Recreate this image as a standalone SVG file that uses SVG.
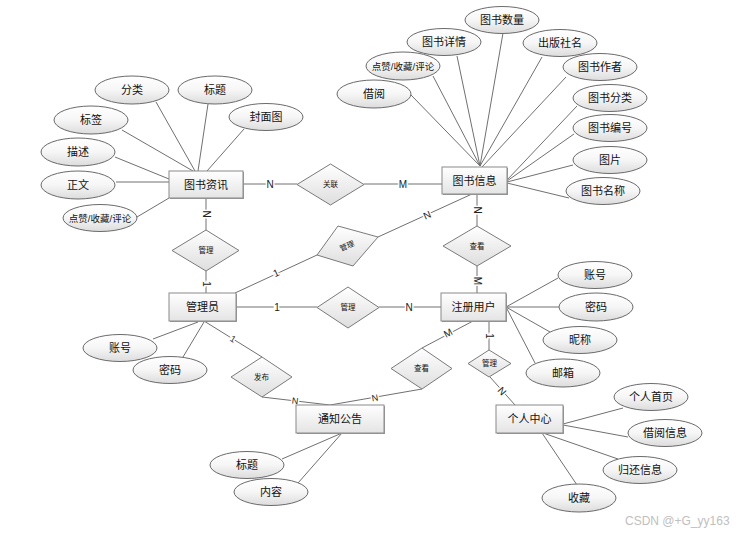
<svg xmlns="http://www.w3.org/2000/svg" width="739" height="533" viewBox="0 0 739 533">
<defs>
<linearGradient id="gE" x1="0" y1="0" x2="0" y2="1"><stop offset="0" stop-color="#ffffff"/><stop offset="0.5" stop-color="#f6f6f6"/><stop offset="1" stop-color="#dcdcdc"/></linearGradient>
<linearGradient id="gR" x1="0" y1="0" x2="0" y2="1"><stop offset="0" stop-color="#ffffff"/><stop offset="1" stop-color="#e4e4e4"/></linearGradient>
<linearGradient id="gD" x1="0" y1="0" x2="0" y2="1"><stop offset="0" stop-color="#ffffff"/><stop offset="1" stop-color="#dedede"/></linearGradient>
<style>
.e{fill:url(#gE);stroke:#6a6a6a;stroke-width:1}
.r{fill:url(#gR);stroke:#8a8a8a;stroke-width:1}
.rs{fill:#9a9a9a}
.d{fill:url(#gD);stroke:#7a7a7a;stroke-width:1}
.t{font-family:"Liberation Sans","Noto Sans CJK SC",sans-serif;font-size:11px;fill:#111;text-anchor:middle;dominant-baseline:central}
.ts{font-size:9.5px}
.td{font-size:7.5px}
.c line{stroke:#707070;stroke-width:1}
.l{font-family:"Liberation Sans","Noto Sans CJK SC",sans-serif;font-size:10px;fill:#222;text-anchor:middle;dominant-baseline:central;stroke:#fff;stroke-width:3px;paint-order:stroke}
.wm{font-family:"Liberation Sans","Noto Sans CJK SC",sans-serif;font-size:12px;fill:#c0c0c0}
</style>
</defs>
<rect width="739" height="533" fill="#fff"/>
<g id="connectors" class="c">
<line x1="156" y1="102" x2="195" y2="171"/>
<line x1="208" y1="104" x2="198" y2="171"/>
<line x1="244" y1="129" x2="207" y2="171"/>
<line x1="122" y1="130" x2="193" y2="171"/>
<line x1="115" y1="157" x2="169" y2="179"/>
<line x1="116" y1="182" x2="169" y2="182"/>
<line x1="137" y1="217" x2="169" y2="198"/>
<line x1="411" y1="95" x2="480" y2="166"/>
<line x1="433" y1="76" x2="480" y2="166"/>
<line x1="457" y1="56" x2="480" y2="166"/>
<line x1="503" y1="33" x2="480" y2="166"/>
<line x1="542" y1="57" x2="480" y2="166"/>
<line x1="566" y1="77" x2="482" y2="167"/>
<line x1="577" y1="106" x2="507" y2="180"/>
<line x1="574" y1="134" x2="507" y2="181"/>
<line x1="573" y1="165" x2="507" y2="182"/>
<line x1="569" y1="198" x2="507" y2="183"/>
<line x1="243" y1="184" x2="297" y2="184"/>
<line x1="364" y1="184" x2="442" y2="184"/>
<line x1="206" y1="198" x2="206" y2="230"/>
<line x1="206" y1="271" x2="206" y2="293"/>
<line x1="235" y1="293" x2="317" y2="255"/>
<line x1="378" y1="237" x2="472" y2="194"/>
<line x1="477" y1="194" x2="477" y2="226"/>
<line x1="477" y1="266" x2="477" y2="293"/>
<line x1="236" y1="307" x2="317" y2="307"/>
<line x1="379" y1="307" x2="441" y2="307"/>
<line x1="506" y1="307" x2="558" y2="278"/>
<line x1="506" y1="307" x2="559" y2="307"/>
<line x1="506" y1="307" x2="550" y2="332"/>
<line x1="506" y1="307" x2="535" y2="363"/>
<line x1="489" y1="321" x2="489" y2="350"/>
<line x1="490" y1="377" x2="515" y2="405"/>
<line x1="473" y1="321" x2="422" y2="348"/>
<line x1="422" y1="389" x2="330" y2="405"/>
<line x1="204" y1="321" x2="262" y2="357"/>
<line x1="262" y1="397" x2="330" y2="405"/>
<line x1="153" y1="339" x2="198" y2="322"/>
<line x1="183" y1="357" x2="204" y2="322"/>
<line x1="282" y1="459" x2="342" y2="433"/>
<line x1="298" y1="483" x2="342" y2="433"/>
<line x1="563" y1="424" x2="623" y2="408"/>
<line x1="563" y1="425" x2="628" y2="437"/>
<line x1="543" y1="433" x2="618" y2="459"/>
<line x1="542" y1="433" x2="577" y2="485"/>
<text class="l" x="270" y="184">N</text>
<text class="l" x="403" y="184">M</text>
<text class="l" transform="translate(206,214) rotate(90)">N</text>
<text class="l" transform="translate(206,284) rotate(90)">1</text>
<text class="l" transform="translate(276,273) rotate(-25)">1</text>
<text class="l" transform="translate(427,215) rotate(-24)">N</text>
<text class="l" transform="translate(477,210) rotate(90)">N</text>
<text class="l" transform="translate(477,281) rotate(90)">M</text>
<text class="l" x="277" y="307">1</text>
<text class="l" x="409" y="307">N</text>
<text class="l" transform="translate(489,336) rotate(90)">1</text>
<text class="l" transform="translate(502,391) rotate(48)">N</text>
<text class="l" transform="translate(448,333) rotate(-28)">M</text>
<text class="l" transform="translate(375,398) rotate(-10)" style="font-size:9px">N</text>
<text class="l" transform="translate(233,339) rotate(32)" style="font-size:9px">1</text>
<text class="l" transform="translate(295,401) rotate(7)" style="font-size:9px">N</text>
</g>
<g id="n-tszx"><rect class="rs" x="170" y="172" width="74" height="27"/><rect class="r" x="169" y="171" width="74" height="27"/><text class="t" x="206" y="184.5">图书资讯</text></g>
<g id="n-tsxx"><rect class="rs" x="443" y="168" width="65" height="27"/><rect class="r" x="442" y="167" width="65" height="27"/><text class="t" x="474.5" y="180.5">图书信息</text></g>
<g id="n-gly"><rect class="rs" x="170" y="294" width="67" height="28"/><rect class="r" x="169" y="293" width="67" height="28"/><text class="t" x="202.5" y="307">管理员</text></g>
<g id="n-zcyh"><rect class="rs" x="442" y="294" width="65" height="28"/><rect class="r" x="441" y="293" width="65" height="28"/><text class="t" x="473.5" y="307">注册用户</text></g>
<g id="n-tzgg"><rect class="rs" x="297" y="406" width="88" height="28"/><rect class="r" x="296" y="405" width="88" height="28"/><text class="t" x="340" y="419">通知公告</text></g>
<g id="n-grzx"><rect class="rs" x="497" y="406" width="67" height="28"/><rect class="r" x="496" y="405" width="67" height="28"/><text class="t" x="529.5" y="419">个人中心</text></g>
<g id="d-gl"><polygon class="d" points="297,184.5 330.5,164 364,184.5 330.5,205"/><text class="t td" x="330.5" y="184.5">关联</text></g>
<g id="d-gl1"><polygon class="d" points="172,250.5 206,230 239,250.5 206,271"/><text class="t td" x="206" y="250.5">管理</text></g>
<g id="d-gl2"><polygon class="d" points="317,255 338,226 378,237 353,266"/><text class="t td" transform="translate(347,246) rotate(-22)">管理</text></g>
<g id="d-ck1"><polygon class="d" points="443,246 477,226 511,246 477,266"/><text class="t td" x="477" y="246">查看</text></g>
<g id="d-gl3"><polygon class="d" points="317,307.5 348,287 379,307.5 348,328"/><text class="t td" x="348" y="307.5">管理</text></g>
<g id="d-ck2"><polygon class="d" points="391,368.5 422,348 452,368.5 422,389"/><text class="t td" x="421.5" y="368.5">查看</text></g>
<g id="d-gl4"><polygon class="d" points="468,363.5 489,350 511,363.5 489,377"/><text class="t td" x="489.5" y="363.5">管理</text></g>
<g id="d-fb"><polygon class="d" points="231,377 262,357 292,377 262,397"/><text class="t td" x="261.5" y="377">发布</text></g>
<g id="a-fl"><ellipse class="e" cx="132" cy="90" rx="37" ry="14"/><text class="t" x="132" y="90">分类</text></g>
<g id="a-bt"><ellipse class="e" cx="215" cy="90" rx="37" ry="14"/><text class="t" x="215" y="90">标题</text></g>
<g id="a-fmt"><ellipse class="e" cx="266" cy="117" rx="37" ry="13.5"/><text class="t" x="266" y="117">封面图</text></g>
<g id="a-bq"><ellipse class="e" cx="91" cy="120" rx="37" ry="14"/><text class="t" x="91" y="120">标签</text></g>
<g id="a-ms"><ellipse class="e" cx="78" cy="152" rx="37" ry="14"/><text class="t" x="78" y="152">描述</text></g>
<g id="a-zw"><ellipse class="e" cx="78" cy="185" rx="37" ry="14"/><text class="t" x="78" y="185">正文</text></g>
<g id="a-dz1"><ellipse class="e" cx="100" cy="218" rx="37" ry="13.5"/><text class="t ts" x="100" y="218">点赞/收藏/评论</text></g>
<g id="a-jy"><ellipse class="e" cx="374" cy="94" rx="37" ry="14"/><text class="t" x="374" y="94">借阅</text></g>
<g id="a-dz2"><ellipse class="e" cx="403" cy="66" rx="37" ry="14"/><text class="t ts" x="403" y="66">点赞/收藏/评论</text></g>
<g id="a-tsxq"><ellipse class="e" cx="444" cy="42" rx="37" ry="13.5"/><text class="t" x="444" y="42">图书详情</text></g>
<g id="a-tssl"><ellipse class="e" cx="502" cy="20" rx="37" ry="13.5"/><text class="t" x="502" y="20">图书数量</text></g>
<g id="a-cbsm"><ellipse class="e" cx="560" cy="43" rx="37" ry="13.5"/><text class="t" x="560" y="43">出版社名</text></g>
<g id="a-tszz"><ellipse class="e" cx="600" cy="67" rx="37" ry="13.5"/><text class="t" x="600" y="67">图书作者</text></g>
<g id="a-tsfl"><ellipse class="e" cx="610" cy="98" rx="37" ry="13.5"/><text class="t" x="610" y="98">图书分类</text></g>
<g id="a-tsbh"><ellipse class="e" cx="610" cy="128" rx="37" ry="13.5"/><text class="t" x="610" y="128">图书编号</text></g>
<g id="a-tp"><ellipse class="e" cx="610" cy="160" rx="37" ry="13.5"/><text class="t" x="610" y="160">图片</text></g>
<g id="a-tsmc"><ellipse class="e" cx="603" cy="191" rx="37" ry="13.5"/><text class="t" x="603" y="191">图书名称</text></g>
<g id="a-zh1"><ellipse class="e" cx="595" cy="275" rx="37" ry="13.5"/><text class="t" x="595" y="275">账号</text></g>
<g id="a-mm1"><ellipse class="e" cx="596" cy="307" rx="37" ry="14"/><text class="t" x="596" y="307">密码</text></g>
<g id="a-nc"><ellipse class="e" cx="580" cy="340" rx="37" ry="13.5"/><text class="t" x="580" y="340">昵称</text></g>
<g id="a-yx"><ellipse class="e" cx="563" cy="373" rx="37" ry="14"/><text class="t" x="563" y="373">邮箱</text></g>
<g id="a-zh2"><ellipse class="e" cx="120" cy="348" rx="37" ry="13.5"/><text class="t" x="120" y="348">账号</text></g>
<g id="a-mm2"><ellipse class="e" cx="170" cy="370" rx="37" ry="13.5"/><text class="t" x="170" y="370">密码</text></g>
<g id="a-bt2"><ellipse class="e" cx="247" cy="465" rx="37" ry="13.5"/><text class="t" x="247" y="465">标题</text></g>
<g id="a-nr"><ellipse class="e" cx="271" cy="492" rx="37" ry="13.5"/><text class="t" x="271" y="492">内容</text></g>
<g id="a-grsy"><ellipse class="e" cx="651" cy="397" rx="37" ry="13.5"/><text class="t" x="651" y="397">个人首页</text></g>
<g id="a-jyxx"><ellipse class="e" cx="665" cy="433" rx="37" ry="13.5"/><text class="t" x="665" y="433">借阅信息</text></g>
<g id="a-ghxx"><ellipse class="e" cx="640" cy="470" rx="37" ry="13.5"/><text class="t" x="640" y="470">归还信息</text></g>
<g id="a-sc"><ellipse class="e" cx="579" cy="498" rx="37" ry="14"/><text class="t" x="579" y="498">收藏</text></g>
<text class="wm" x="625" y="525">CSDN @+G_yy163</text>
</svg>
